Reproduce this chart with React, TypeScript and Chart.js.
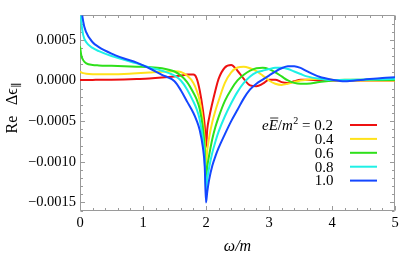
import React, { useEffect, useRef } from 'react';
import { Chart, registerables } from 'chart.js';

Chart.register(...registerables);

// ω/m sample positions
const omega = [0, 0.02, 0.05, 0.1, 0.2, 0.3, 0.5, 0.7, 0.9, 1.1, 1.3, 1.5, 1.6, 1.7, 1.8, 1.85, 1.9, 1.95, 1.98, 2.0, 2.02, 2.05, 2.1, 2.15, 2.2, 2.3, 2.4, 2.5, 2.6, 2.7, 2.8, 2.9, 3.0, 3.1, 3.2, 3.3, 3.4, 3.5, 3.6, 3.8, 4.0, 4.2, 4.5, 4.8, 5.0];

// Re Δε∥ for each field strength eE/m²
const reE02 = [0.05e-4, 0.05e-4, 0.05e-4, 0.06e-4, 0.07e-4, 0.08e-4, 0.1e-4, 0.13e-4, 0.18e-4, 0.24e-4, 0.35e-4, 0.5e-4, 0.6e-4, 0.72e-4, 0.72e-4, 0.3e-4, -1.2e-4, -3.6e-4, -5.6e-4, -8.2e-4, -6.0e-4, -4.6e-4, -2.8e-4, -1.2e-4, 0.2e-4, 1.6e-4, 1.9e-4, 1.2e-4, 0.2e-4, -0.6e-4, -0.7e-4, -0.4e-4, 0.1e-4, 0.1e-4, -0.2e-4, -0.3e-4, -0.1e-4, 0.1e-4, 0.1e-4, 0, 0, 0, 0, 0, 0];
const reE04 = [1.1e-4, 1.0e-4, 0.9e-4, 0.82e-4, 0.76e-4, 0.75e-4, 0.76e-4, 0.8e-4, 0.88e-4, 0.98e-4, 1.08e-4, 1.12e-4, 1.05e-4, 0.6e-4, -0.3e-4, -1.2e-4, -2.5e-4, -4.9e-4, -7.4e-4, -10.3e-4, -8.6e-4, -7.0e-4, -5.1e-4, -3.7e-4, -2.5e-4, -0.3e-4, 1.0e-4, 1.6e-4, 1.7e-4, 1.5e-4, 1.15e-4, 0.6e-4, 0.0, -0.4e-4, -0.55e-4, -0.4e-4, -0.2e-4, 0.0, 0.1e-4, 0.2e-4, 0.1e-4, 0, 0, 0, 0];
const reE06 = [4.2e-4, 3.1e-4, 2.5e-4, 2.1e-4, 1.9e-4, 1.85e-4, 1.8e-4, 1.75e-4, 1.7e-4, 1.65e-4, 1.5e-4, 1.1e-4, 0.6e-4, -0.2e-4, -1.5e-4, -2.3e-4, -3.5e-4, -5.8e-4, -8.5e-4, -12.0e-4, -10.6e-4, -9.2e-4, -7.2e-4, -5.7e-4, -4.5e-4, -2.5e-4, -1.1e-4, 0.0, 0.7e-4, 1.2e-4, 1.5e-4, 1.55e-4, 1.4e-4, 1.0e-4, 0.5e-4, 0.0, -0.3e-4, -0.4e-4, -0.4e-4, -0.2e-4, 0.0, 0.1e-4, 0.1e-4, 0.05e-4, 0.05e-4];
const reE08 = [10e-4, 7.3e-4, 5.6e-4, 4.7e-4, 4.0e-4, 3.6e-4, 3.0e-4, 2.55e-4, 2.1e-4, 1.6e-4, 1.2e-4, 0.6e-4, 0.0, -1.1e-4, -2.6e-4, -3.5e-4, -4.8e-4, -7.2e-4, -9.8e-4, -13.5e-4, -12.1e-4, -10.7e-4, -8.9e-4, -7.5e-4, -6.3e-4, -4.4e-4, -2.8e-4, -1.4e-4, -0.3e-4, 0.5e-4, 1.0e-4, 1.2e-4, 1.4e-4, 1.55e-4, 1.55e-4, 1.4e-4, 1.1e-4, 0.8e-4, 0.5e-4, 0.2e-4, 0.05e-4, 0.05e-4, 0.1e-4, 0.15e-4, 0.2e-4];
const reE10 = [14e-4, 9.5e-4, 7.3e-4, 5.9e-4, 4.7e-4, 4.1e-4, 3.3e-4, 2.7e-4, 2.2e-4, 1.5e-4, 0.7e-4, -0.1e-4, -1.2e-4, -2.6e-4, -4.0e-4, -4.9e-4, -6.1e-4, -8.2e-4, -10.6e-4, -15.0e-4, -13.7e-4, -12.2e-4, -10.5e-4, -9.3e-4, -8.3e-4, -6.6e-4, -5.0e-4, -3.6e-4, -2.2e-4, -1.1e-4, -0.4e-4, 0.1e-4, 0.6e-4, 1.1e-4, 1.5e-4, 1.75e-4, 1.75e-4, 1.55e-4, 1.15e-4, 0.45e-4, 0.1e-4, -0.1e-4, 0.1e-4, 0.3e-4, 0.4e-4];

const seriesLabels = ['0.2', '0.4', '0.6', '0.8', '1.0'];
const seriesColors = ['#ee1111', '#ffe21a', '#2ee01a', '#1ef0e6', '#1447ff'];
const seriesValues = [reE02, reE04, reE06, reE08, reE10];

const xTickValues = [0, 1, 2, 3, 4, 5];
const yTickValues = [-0.0015, -0.001, -0.0005, 0, 0.0005];

const SERIF = "'Liberation Serif', 'DejaVu Serif', serif";
const FRAME = '#9a9a9a';

Chart.defaults.font.family = SERIF;
Chart.defaults.color = '#000';

function fmtY(v: number): string {
  const s = Math.abs(v).toFixed(4);
  return v < -1e-12 ? '\u2212' + s : s;
}

const framePlugin = {
  id: 'frameTicks',
  beforeDatasetsDraw(chart: any) {
    const { ctx, chartArea } = chart;
    const { left, right, top, bottom } = chartArea;
    const xs = chart.scales.x;
    const ys = chart.scales.y;
    ctx.save();
    ctx.strokeStyle = FRAME;
    ctx.lineWidth = 1;
    const L = Math.round(left) + 0.5;
    const R = Math.round(right) - 0.5;
    const T = Math.round(top) + 0.5;
    const B = Math.round(bottom) - 0.5;
    ctx.beginPath();
    ctx.rect(L, T, R - L, B - T);
    ctx.stroke();
    ctx.beginPath();
    for (let i = 0; i <= 25; i++) {
      const v = i * 0.2;
      const major = i % 5 === 0;
      const len = major ? 4.5 : 2.5;
      const px = Math.round(xs.getPixelForValue(v)) + 0.5;
      ctx.moveTo(px, B);
      ctx.lineTo(px, B - len);
      ctx.moveTo(px, T);
      ctx.lineTo(px, T + len);
    }
    for (let i = -16; i <= 8; i++) {
      const v = i * 0.0001;
      const major = i % 5 === 0;
      const len = major ? 4.5 : 2.5;
      const py = Math.round(ys.getPixelForValue(v)) + 0.5;
      ctx.moveTo(L, py);
      ctx.lineTo(L + len, py);
      ctx.moveTo(R, py);
      ctx.lineTo(R - len, py);
    }
    ctx.stroke();
    ctx.restore();
  },
  afterDraw(chart: any) {
    const { ctx } = chart;
    ctx.save();
    ctx.fillStyle = '#000';
    // y axis title: Re Δϵ∥
    ctx.save();
    ctx.translate(16.5, 133.5);
    ctx.rotate(-Math.PI / 2);
    ctx.textBaseline = 'alphabetic';
    ctx.textAlign = 'left';
    ctx.font = `16px ${SERIF}`;
    ctx.fillText('Re', 0, 0);
    ctx.fillText('\u0394\u03f5', 28.5, 0);
    const w = ctx.measureText('\u0394\u03f5').width;
    ctx.font = `11px ${SERIF}`;
    ctx.fillText('\u2225', 28.5 + w + 0.5, 3.5);
    ctx.restore();

    // legend
    const textRight = 333.5;
    const lx0 = 350;
    const lx1 = 377;
    const y0 = 125;
    const dy = 13.9;
    seriesLabels.forEach((lab, i) => {
      const ly = y0 + i * dy;
      ctx.strokeStyle = seriesColors[i];
      ctx.lineWidth = 2;
      ctx.beginPath();
      ctx.moveTo(lx0, ly);
      ctx.lineTo(lx1, ly);
      ctx.stroke();
      const base = ly + 4.8;
      ctx.textBaseline = 'alphabetic';
      if (i === 0) {
        const pieces = [
          { t: 'e', f: `italic 15px ${SERIF}`, dy: 0, bar: false },
          { t: 'E', f: `italic 15px ${SERIF}`, dy: 0, bar: true },
          { t: '/', f: `15px ${SERIF}`, dy: 0, bar: false },
          { t: 'm', f: `italic 15px ${SERIF}`, dy: 0, bar: false },
          { t: '2', f: `10px ${SERIF}`, dy: -6, bar: false },
          { t: ' = ' + lab, f: `15px ${SERIF}`, dy: 0, bar: false },
        ];
        const widths = pieces.map((p) => {
          ctx.font = p.f;
          return ctx.measureText(p.t).width;
        });
        const total = widths.reduce((a, b) => a + b, 0);
        let x = textRight - total - 1;
        ctx.textAlign = 'left';
        pieces.forEach((p, k) => {
          ctx.font = p.f;
          ctx.fillText(p.t, x, base + p.dy);
          if (p.bar) {
            ctx.strokeStyle = '#000';
            ctx.lineWidth = 0.8;
            ctx.beginPath();
            ctx.moveTo(x + 1.5, base - 11.8);
            ctx.lineTo(x + widths[k] + 0.5, base - 11.8);
            ctx.stroke();
          }
          x += widths[k] + (k === 3 ? 0.5 : 0);
        });
      } else {
        ctx.font = `15px ${SERIF}`;
        ctx.textAlign = 'right';
        ctx.fillText(lab, textRight, base);
      }
    });
    ctx.restore();
  },
};

export default function App() {
  const canvasRef = useRef<HTMLCanvasElement | null>(null);

  useEffect(() => {
    const canvas = canvasRef.current;
    if (!canvas) return;
    const datasets = seriesValues.map((vals, i) => ({
      label: seriesLabels[i],
      data: omega.map((x, k) => ({ x, y: vals[k] })),
      borderColor: seriesColors[i],
      backgroundColor: seriesColors[i],
      borderWidth: 2,
      pointRadius: 0,
      fill: false,
      cubicInterpolationMode: 'monotone' as const,
      order: seriesLabels.length - i,
    }));
    const chart = new Chart(canvas, {
      type: 'line',
      data: { datasets },
      options: {
        animation: false,
        responsive: true,
        maintainAspectRatio: false,
        devicePixelRatio: 1,
        layout: { padding: { left: 0, right: 16, top: 15.4, bottom: 0 } },
        plugins: {
          legend: { display: false },
          tooltip: { enabled: false },
        },
        scales: {
          x: {
            type: 'linear',
            min: 0,
            max: 5,
            grid: { display: false, drawTicks: false },
            border: { display: false },
            afterBuildTicks: (s: any) => {
              s.ticks = xTickValues.map((v) => ({ value: v }));
            },
            afterFit: (s: any) => {
              s.height = 45.4;
            },
            ticks: {
              padding: 4,
              maxRotation: 0,
              color: '#000',
              font: { family: SERIF, size: 14.5 },
              callback: (v: any) => String(v),
            },
            title: {
              display: true,
              text: 'ω/m',
              color: '#000',
              font: { family: SERIF, size: 16, style: 'italic' },
              padding: { top: 0, bottom: 0 },
            },
          },
          y: {
            type: 'linear',
            min: -0.0016,
            max: 0.0008,
            grid: { display: false, drawTicks: false },
            border: { display: false },
            afterBuildTicks: (s: any) => {
              s.ticks = yTickValues.map((v) => ({ value: v }));
            },
            afterFit: (s: any) => {
              s.width = 80;
            },
            ticks: {
              padding: 4,
              color: '#000',
              font: { family: SERIF, size: 14.5 },
              callback: (v: any) => fmtY(Number(v)),
            },
          },
        },
      },
      plugins: [framePlugin],
    });
    return () => chart.destroy();
  }, []);

  return (
    <div style={{ position: 'fixed', left: 0, top: 0, width: 411, height: 256, background: '#fff' }}>
      <canvas ref={canvasRef} />
    </div>
  );
}
